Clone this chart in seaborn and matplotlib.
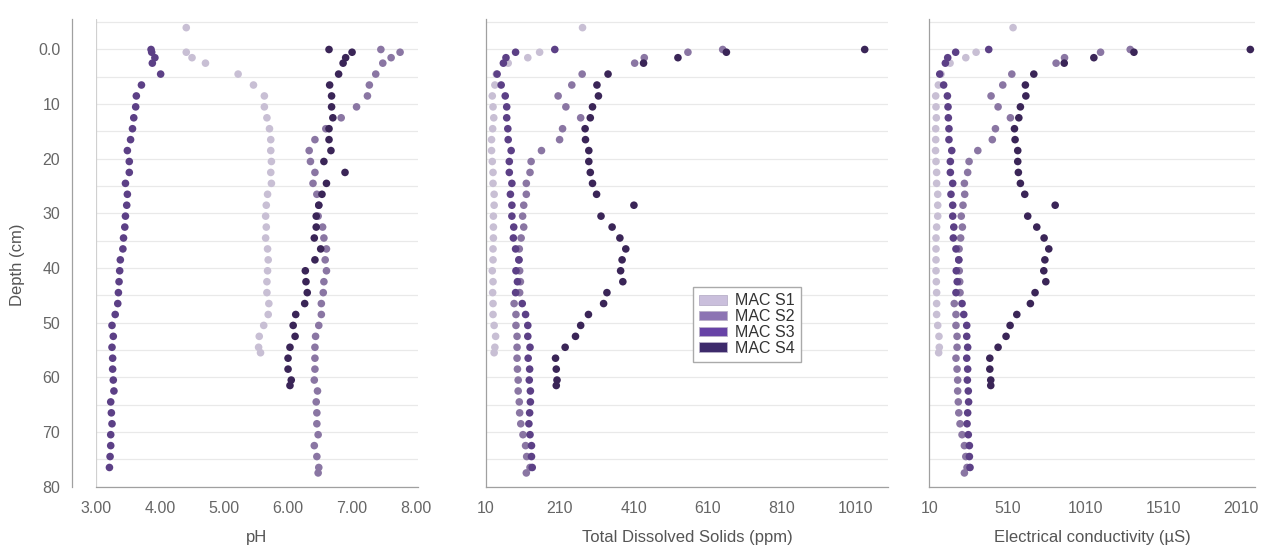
import pandas as pd
import matplotlib.pyplot as plt
import seaborn as sns
from matplotlib.patches import Patch
from matplotlib.ticker import FixedLocator

# 1. Data (depth in cm, one array per core)
depth_s1 = [-4, 0.5, 1.5, 2.5, 4.5, 6.5, 8.5, 10.5, 12.5, 14.5, 16.5, 18.5, 20.5, 22.5, 24.5, 26.5,
            28.5, 30.5, 32.5, 34.5, 36.5, 38.5, 40.5, 42.5, 44.5, 46.5, 48.5, 50.5, 52.5, 54.5, 55.5]
depth_s2 = [0, 0.5, 1.5, 2.5, 4.5, 6.5, 8.5, 10.5, 12.5, 14.5, 16.5, 18.5, 20.5, 22.5, 24.5, 26.5,
            28.5, 30.5, 32.5, 34.5, 36.5, 38.5, 40.5, 42.5, 44.5, 46.5, 48.5, 50.5, 52.5, 54.5, 56.5,
            58.5, 60.5, 62.5, 64.5, 66.5, 68.5, 70.5, 72.5, 74.5, 76.5, 77.5]
depth_s3 = [0, 0.5, 1.5, 2.5, 4.5, 6.5, 8.5, 10.5, 12.5, 14.5, 16.5, 18.5, 20.5, 22.5, 24.5, 26.5,
            28.5, 30.5, 32.5, 34.5, 36.5, 38.5, 40.5, 42.5, 44.5, 46.5, 48.5, 50.5, 52.5, 54.5, 56.5,
            58.5, 60.5, 62.5, 64.5, 66.5, 68.5, 70.5, 72.5, 74.5, 76.5]
depth_s4 = [0, 0.5, 1.5, 2.5, 4.5, 6.5, 8.5, 10.5, 12.5, 14.5, 16.5, 18.5, 20.5, 22.5, 24.5, 26.5,
            28.5, 30.5, 32.5, 34.5, 36.5, 38.5, 40.5, 42.5, 44.5, 46.5, 48.5, 50.5, 52.5, 54.5, 56.5,
            58.5, 60.5, 61.5]

ph_s1 = [4.41, 4.41, 4.50, 4.71, 5.22, 5.46, 5.63, 5.63, 5.67, 5.71, 5.73, 5.73, 5.74, 5.73, 5.74, 5.68,
         5.66, 5.65, 5.66, 5.65, 5.68, 5.69, 5.68, 5.67, 5.67, 5.70, 5.69, 5.62, 5.55, 5.54, 5.57]
ph_s2 = [7.45, 7.75, 7.61, 7.48, 7.37, 7.27, 7.24, 7.07, 6.83, 6.59, 6.42, 6.33, 6.35, 6.42, 6.39, 6.45,
         6.48, 6.47, 6.54, 6.56, 6.60, 6.58, 6.60, 6.56, 6.55, 6.52, 6.52, 6.48, 6.43, 6.42, 6.42,
         6.42, 6.41, 6.46, 6.44, 6.45, 6.45, 6.47, 6.41, 6.45, 6.48, 6.47]
ph_s3 = [3.86, 3.87, 3.92, 3.88, 4.01, 3.71, 3.63, 3.62, 3.59, 3.57, 3.54, 3.49, 3.52, 3.52, 3.46, 3.49,
         3.48, 3.46, 3.45, 3.43, 3.42, 3.38, 3.37, 3.36, 3.35, 3.34, 3.30, 3.25, 3.27, 3.25, 3.26,
         3.26, 3.27, 3.28, 3.23, 3.24, 3.25, 3.23, 3.23, 3.22, 3.21]
ph_s4 = [6.64, 7.00, 6.90, 6.86, 6.79, 6.65, 6.68, 6.68, 6.70, 6.64, 6.64, 6.67, 6.56, 6.89, 6.60, 6.53,
         6.48, 6.44, 6.44, 6.41, 6.51, 6.42, 6.27, 6.28, 6.30, 6.26, 6.12, 6.08, 6.11, 6.03, 6.00,
         6.00, 6.05, 6.03]

tds_s1 = [271, 155, 123, 70, 38, 34, 27, 29, 31, 28, 25, 25, 27, 29, 29, 32,
          32, 30, 30, 30, 29, 29, 27, 29, 28, 29, 29, 32, 36, 34, 32]
tds_s2 = [650, 556, 438, 412, 270, 242, 205, 226, 266, 217, 209, 160, 132, 129, 119, 119,
          112, 109, 112, 105, 100, 99, 101, 103, 101, 86, 91, 91, 94, 94, 94,
          95, 97, 97, 100, 101, 104, 110, 117, 120, 129, 119]
tds_s3 = [196, 90, 64, 57, 40, 51, 62, 66, 66, 69, 70, 78, 73, 73, 80, 76,
          80, 80, 85, 84, 90, 99, 91, 95, 90, 108, 117, 123, 123, 129, 124,
          128, 127, 130, 130, 128, 126, 129, 133, 133, 135]
tds_s4 = [1034, 660, 529, 436, 340, 310, 314, 298, 292, 278, 279, 288, 288, 292, 298, 309,
          410, 321, 351, 372, 388, 378, 374, 380, 337, 328, 287, 266, 252, 224, 198,
          200, 202, 200]

ec_s1 = [547, 310, 244, 143, 85, 68, 51, 53, 55, 51, 51, 50, 53, 57, 57, 64,
         64, 64, 57, 53, 53, 53, 53, 55, 57, 57, 57, 64, 72, 74, 70]
ec_s2 = [1298, 1108, 877, 823, 539, 481, 406, 451, 530, 434, 414, 321, 265, 256, 235, 237,
         226, 215, 222, 211, 201, 199, 202, 205, 207, 170, 181, 181, 188, 188, 181,
         188, 192, 192, 196, 199, 207, 220, 235, 244, 252, 235]
ec_s3 = [391, 179, 128, 113, 77, 102, 126, 130, 132, 136, 136, 154, 145, 145, 160, 149,
         160, 160, 167, 164, 181, 199, 183, 189, 181, 220, 231, 250, 250, 256, 250,
         256, 254, 260, 262, 256, 252, 260, 267, 267, 271]
ec_s4 = [2068, 1322, 1065, 875, 680, 626, 629, 594, 584, 556, 560, 577, 577, 581, 594, 622,
         817, 641, 699, 746, 776, 751, 744, 757, 688, 658, 571, 528, 502, 451, 398,
         398, 404, 404]

sites = ['MAC S1', 'MAC S2', 'MAC S3', 'MAC S4']
dot_colors = ['#c8bfd4', '#8a76a3', '#5c4086', '#3a2557']
legend_colors = ['#cabfdc', '#8c74b3', '#6743a6', '#3d2a6b']

frames = []
for site, d, ph, tds, ec in zip(sites,
                                [depth_s1, depth_s2, depth_s3, depth_s4],
                                [ph_s1, ph_s2, ph_s3, ph_s4],
                                [tds_s1, tds_s2, tds_s3, tds_s4],
                                [ec_s1, ec_s2, ec_s3, ec_s4]):
    frames.append(pd.DataFrame({'site': site, 'depth': d, 'ph': ph, 'tds': tds, 'ec': ec}))
df = pd.concat(frames, ignore_index=True)

# 2. Style
sns.set_style('white')
plt.rcParams['font.family'] = ['Liberation Sans', 'DejaVu Sans']
tick_c = '#666666'
spine_c = '#a0a0a0'
grid_c = '#e9e9e9'

W, H = 1262, 546
fig = plt.figure(figsize=(W / 100, H / 100), dpi=100)
bottom = 1 - 486.6 / H
height = 467.7 / H
ax1 = fig.add_axes([96 / W, bottom, 322 / W, height])
ax2 = fig.add_axes([486 / W, bottom, 402 / W, height])
ax3 = fig.add_axes([929.3 / W, bottom, 326 / W, height])

palette = dict(zip(sites, dot_colors))
panels = [
    (ax1, 'ph', 'pH', (3, 8.03), [3, 4, 5, 6, 7, 8], ['3.00', '4.00', '5.00', '6.00', '7.00', '8.00']),
    (ax2, 'tds', 'Total Dissolved Solids (ppm)', (10, 1097), [10, 210, 410, 610, 810, 1010],
     ['10', '210', '410', '610', '810', '1010']),
    (ax3, 'ec', 'Electrical conductivity (\u00b5S)', (10, 2100), [10, 510, 1010, 1510, 2010],
     ['10', '510', '1010', '1510', '2010']),
]

depth_major = [0, 10, 20, 30, 40, 50, 60, 70, 80]
depth_minor = [-5, 5, 15, 25, 35, 45, 55, 65, 75]

for ax, col, label, xlim, xt, xtl in panels:
    sns.scatterplot(data=df, x=col, y='depth', hue='site', palette=palette, s=30,
                    linewidth=0, legend=False, ax=ax, zorder=3)
    ax.set_xlim(*xlim)
    ax.set_ylim(80, -5.6)
    ax.set_xticks(xt)
    ax.set_xticklabels(xtl)
    ax.yaxis.set_major_locator(FixedLocator(depth_major))
    ax.yaxis.set_minor_locator(FixedLocator(depth_minor))
    ax.grid(axis='y', which='both', color=grid_c, linewidth=0.9)
    ax.set_axisbelow(True)
    for s in ['top', 'right']:
        ax.spines[s].set_visible(False)
    for s in ['left', 'bottom']:
        ax.spines[s].set_color(spine_c)
        ax.spines[s].set_linewidth(0.9)
    ax.tick_params(axis='x', which='both', direction='out', length=3.5, width=0.8,
                   color=spine_c, labelcolor=tick_c, labelsize=11.5, pad=7)
    ax.tick_params(axis='y', which='both', direction='out', length=2.5, width=0.8,
                   color=spine_c, labelcolor=tick_c, labelsize=11.5, pad=6)
    ax.set_xlabel(label, fontsize=12, color='#555555', labelpad=10)
    ax.set_ylabel('')

ax1.set_yticklabels(['0.0', '10', '20', '30', '40', '50', '60', '70', '80'])
ax1.spines['left'].set_position(('outward', 17.3))
ax1.axvline(3, color='#d0d0d0', linewidth=0.9, zorder=1)
for ax in (ax2, ax3):
    ax.set_yticklabels([])

fig.text(18 / W, 1 - 265 / H, 'Depth (cm)', rotation=90, ha='center', va='center',
         fontsize=12, color='#555555')

# 3. Legend
handles = [Patch(facecolor=c, edgecolor='#b8b0c8', linewidth=0.6) for c in legend_colors]
leg = fig.legend(handles, sites, loc='upper left', bbox_to_anchor=(693 / W, 1 - 287 / H),
                 frameon=True, fancybox=False, edgecolor='#aaaaaa', framealpha=1,
                 fontsize=11.5, labelspacing=0.05, borderpad=0.4, handlelength=1.75,
                 handleheight=0.55, handletextpad=0.45, borderaxespad=0)
for t in leg.get_texts():
    t.set_color('#333333')

fig.savefig('out.png', dpi=100)
